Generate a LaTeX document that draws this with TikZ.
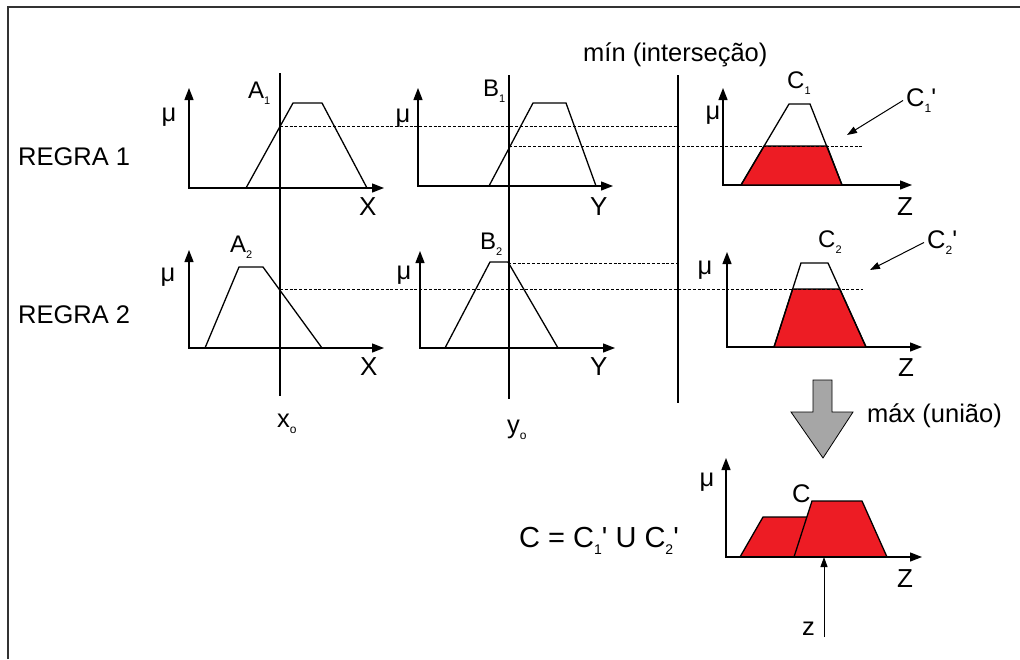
\documentclass[tikz,border=0pt]{standalone}
\usepackage{fontspec}
\newfontfamily\arial{Liberation Sans}
\usetikzlibrary{arrows.meta}
\definecolor{cutred}{RGB}{237,28,36}
\definecolor{maxgray}{RGB}{166,166,166}
\definecolor{framegray}{RGB}{50,50,50}
\newcommand{\idx}[2][11]{\raisebox{-0.5ex}{\fontsize{#1}{#1}\selectfont #2}}

\begin{document}
\begin{tikzpicture}[x=1pt,y=-1pt,
  txt/.style={font=\arial\fontsize{25.5}{28}\selectfont,inner sep=0pt},
  axlbl/.style={font=\arial\fontsize{26}{28}\selectfont,inner sep=0pt,anchor=base west},
  setlbl/.style={font=\arial\fontsize{24}{26}\selectfont,inner sep=0pt,anchor=base west},
  axes/.style={line width=1.3pt,{Triangle[length=12pt,width=9pt]}-{Triangle[length=12pt,width=9pt]}},
  memb/.style={line width=1.3pt},
  cutline/.style={line width=1pt,dash pattern=on 3pt off 1.8pt},
  ptr/.style={line width=1pt,-{Triangle[length=10pt,width=7pt]}}]
  \useasboundingbox (0,0) rectangle (1020,659);
  \draw[framegray,line width=1.6pt] (8,659) -- (8,7) -- (1020,7);

  % axes of the seven panels
  \foreach \ox/\oy/\ex/\ty in {189/188/384/88, 418/186/613/88, 723/185/912/88,
      189/348/384/250, 420/348/615/251, 727/347/922/252, 726/557/922/458}
    \draw[axes] (\ox,\ty) -- (\ox,\oy) -- (\ex,\oy);

  % input values and min line
  \draw[memb] (280,73) -- (280,396);
  \draw[memb] (509,75) -- (509,399);
  \draw[memb] (678,75) -- (678,403);

  % rule 1
  \draw[memb] (246,188) -- (293,103) -- (322,103) -- (367,188);
  \draw[memb] (489,186) -- (533,103) -- (566,103) -- (596,186);
  \filldraw[cutred,draw=black,line width=1.3pt] (741,185) -- (764,146) -- (827,146) -- (842,185) -- cycle;
  \draw[memb] (741,185) -- (789,104) -- (810,104) -- (842,185);
  \draw[cutline] (280,126) -- (678,126);
  \draw[cutline] (509,146) -- (863,146);

  % rule 2
  \draw[memb] (205,348) -- (239,267) -- (263,267) -- (322,348);
  \draw[memb] (445,348) -- (490,262) -- (508,262) -- (558,348);
  \filldraw[cutred,draw=black,line width=1.3pt] (774,347) -- (792.6,289) -- (839.8,289) -- (866,347) -- cycle;
  \draw[memb] (774,347) -- (801,263) -- (828,263) -- (866,347);
  \draw[cutline] (508,263) -- (678,263);
  \draw[cutline] (280,289) -- (863,289);

  % union
  \filldraw[cutred,draw=black,line width=1.3pt] (740,557) -- (763,517) -- (807,517) -- (820,557) -- cycle;
  \filldraw[cutred,draw=black,line width=1.3pt] (794,557) -- (812,501) -- (862,501) -- (887,557) -- cycle;
  \draw[line width=1.3pt] (726,557) -- (905,557);
  \filldraw[fill=maxgray,draw=black,line width=0.8pt] (813,380) -- (832,380) -- (832,412) -- (853,412)
    -- (823,458) -- (791,412) -- (813,412) -- cycle;

  % labels
  \node[txt,anchor=base west] (regra1) at (18,165) {REGRA 1};
  \node[txt,anchor=base west] (regra2) at (18,323) {REGRA 2};
  \node[txt,anchor=base west] (minlbl) at (583,61) {mín (interseção)};
  \node[txt,anchor=base west] (maxlbl) at (867,422) {máx (união)};
  \node[txt] (muA1) at (169,117) {μ};
  \node[txt] (muB1) at (403,118) {μ};
  \node[txt] (muC1) at (713,115) {μ};
  \node[txt] (muA2) at (168,277) {μ};
  \node[txt] (muB2) at (404,275) {μ};
  \node[txt] (muC2) at (705,270) {μ};
  \node[txt] (muC) at (707,482) {μ};
  \node[setlbl] (A1) at (248,98) {A\idx{1}};
  \node[setlbl] (B1) at (483,96) {B\idx{1}};
  \node[setlbl] (C1) at (787,88) {C\idx{1}};
  \node[setlbl] (A2) at (230,252) {A\idx{2}};
  \node[setlbl] (B2) at (480,249) {B\idx{2}};
  \node[setlbl] (C2) at (818,247) {C\idx{2}};
  \node[axlbl] (X1) at (359,215) {X};
  \node[axlbl] (Y1) at (590,215) {Y};
  \node[axlbl] (Z1) at (897,215) {Z};
  \node[axlbl] (X2) at (360,375) {X};
  \node[axlbl] (Y2) at (590,375) {Y};
  \node[axlbl] (Z2) at (898,376) {Z};
  \node[axlbl] (Z3) at (897,587) {Z};
  \node[txt,anchor=base west] (x0) at (277,427) {x\idx[12]{o}};
  \node[txt,anchor=base west] (y0) at (507,433) {y\idx[12]{o}};
  \node[txt,anchor=base west] (Cu) at (792,502) {C};
  \node[txt,anchor=base west,font=\arial\fontsize{29}{32}\selectfont] (union) at (519,547)
    {C = C\idx[14]{1}' U C\idx[14]{2}'};
  \node[txt,anchor=base west] (C1p) at (906,106) {C\idx[12]{1}'};
  \node[txt,anchor=base west] (C2p) at (927,248) {C\idx[12]{2}'};
  \node[txt,anchor=base west] (zval) at (802,635) {z};

  % pointers
  \coordinate (C1tip) at (847,135);
  \coordinate (C2tip) at (870,270);
  \coordinate (zfoot) at (824,637);
  \coordinate (zpt) at (824,557);
  \draw[ptr] ([xshift=-3pt]C1p.west) -- (C1tip);
  \draw[ptr] ([xshift=-3pt]C2p.west) -- (C2tip);
  \draw[ptr] (zfoot) -- (zpt);
\end{tikzpicture}
\end{document}
